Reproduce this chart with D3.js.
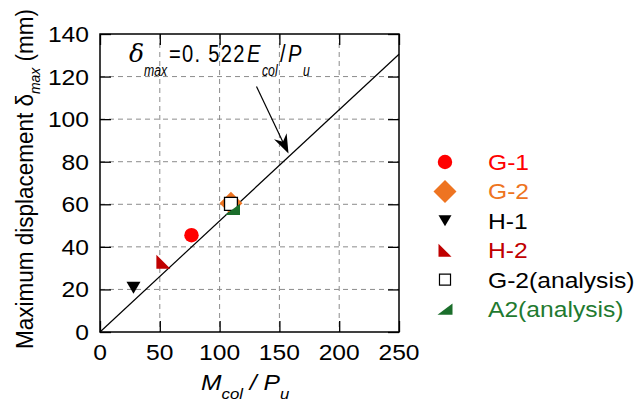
<!DOCTYPE html>
<html><head><meta charset="utf-8">
<script src="https://cdn.jsdelivr.net/npm/d3@7"></script>
<style>
html,body{margin:0;padding:0;background:#fff;}
text{font-family:"Liberation Sans",Arial,sans-serif;}
</style></head>
<body><svg id="chart" width="640" height="405"></svg>
<script>
// ---- data ----
const seriesNames = ["G-1","G-2","H-1","H-2","G-2(analysis)","A2(analysis)"];
const seriesX = [76.5, 109.5, 28, 53, 109.5, 110.8];
const seriesY = [45.5, 60.5, 20.8, 33, 60.2, 57.6];
const seriesColors = ["#ff0000","#ee7421","#000000","#c00000","#000000","#1b6e2b"];
const seriesShapes = ["circle","diamond","triDown","triH2","square","triA2"];
const xTicks = [0,50,100,150,200,250];
const yTicks = [0,20,40,60,80,100,120,140];
const fitSlope = 0.522;
const fitX = [0,250];

const SX = 1.12; // horizontal stretch of the reference typography
const svg = d3.select("#chart");
const L=100, R=399, T=34, B=332;
const x = d3.scaleLinear().domain([0,250]).range([L,R]);
const y = d3.scaleLinear().domain([0,140]).range([B,T]);

// grid
const grid = svg.append("g").attr("stroke","#8c8c8c").attr("stroke-width",1).attr("stroke-dasharray","5,4");
xTicks.slice(1,-1).forEach(v=>grid.append("line").attr("x1",x(v)).attr("x2",x(v)).attr("y1",T).attr("y2",B));
yTicks.slice(1,-1).forEach(v=>grid.append("line").attr("y1",y(v)).attr("y2",y(v)).attr("x1",L).attr("x2",R));

// inward ticks using axes
const tk = 11;
svg.append("g").attr("transform",`translate(0,${B})`).call(d3.axisTop(x).tickValues(xTicks).tickSize(tk).tickFormat(""));
svg.append("g").attr("transform",`translate(0,${T})`).call(d3.axisBottom(x).tickValues(xTicks).tickSize(tk).tickFormat(""));
svg.append("g").attr("transform",`translate(${L},0)`).call(d3.axisRight(y).tickValues(yTicks).tickSize(tk).tickFormat(""));
svg.append("g").attr("transform",`translate(${R},0)`).call(d3.axisLeft(y).tickValues(yTicks).tickSize(tk).tickFormat(""));
svg.selectAll(".domain").remove();
svg.selectAll(".tick line").attr("stroke","#000").attr("stroke-width",1.3);

// frame
svg.append("rect").attr("x",L).attr("y",T).attr("width",R-L).attr("height",B-T)
  .attr("fill","none").attr("stroke","#000").attr("stroke-width",1.5);

// tick labels
svg.append("g").selectAll("text").data(xTicks).join("text")
  .attr("transform",d=>`translate(${x(d)},360) scale(${SX},1)`).attr("text-anchor","middle")
  .attr("font-size",22).text(d=>d);
svg.append("g").selectAll("text").data(yTicks).join("text")
  .attr("transform",d=>`translate(89,${y(d)+8}) scale(${SX},1)`).attr("text-anchor","end")
  .attr("font-size",22).text(d=>d);

// fit line
svg.append("line").attr("x1",x(fitX[0])).attr("y1",y(fitX[0]*fitSlope))
  .attr("x2",x(fitX[1])).attr("y2",y(fitX[1]*fitSlope))
  .attr("stroke","#000").attr("stroke-width",1.2);

// marker symbol paths
function shapePath(shape, s){
  switch(shape){
    case "circle": return d3.symbol(d3.symbolCircle, s*s*0.78)();
    case "diamond": {const h=s*0.82; return `M0,${-h}L${h},0L0,${h}L${-h},0Z`;}
    case "triDown": {const w=s*0.5; return `M${-w},${-w*0.85}L${w},${-w*0.85}L0,${w*0.85}Z`;}
    case "triH2": {const w=s*0.5; return `M${-w},${-w}L${w},${w}L${-w},${w}Z`;}
    case "triA2": {const w=s*0.5; return `M${-w},${w*0.75}L${w},${-w*0.75}L${w},${w*0.75}Z`;}
    case "square": {const w=s*0.46; return `M${-w},${-w}H${w}V${w}H${-w}Z`;}
  }
}
const sizes = [14.5,14,14,14,14,15];
const pts = svg.append("g");
seriesNames.forEach((n,i)=>{
  pts.append("path").attr("d",shapePath(seriesShapes[i],sizes[i]))
    .attr("transform",`translate(${x(seriesX[i])},${y(seriesY[i])})`)
    .attr("fill",seriesShapes[i]==="square"?"#fff":seriesColors[i])
    .attr("stroke",seriesShapes[i]==="square"?"#000":"none")
    .attr("stroke-width",1.3);
});

// legend
const lg = svg.append("g");
const legSizes=[14.5,14,13,13,12,15];
seriesNames.forEach((n,i)=>{
  const yy = 162 + i*29.4;
  lg.append("path").attr("d",shapePath(seriesShapes[i],legSizes[i]))
    .attr("transform",`translate(445,${yy})`)
    .attr("fill",seriesShapes[i]==="square"?"#fff":seriesColors[i])
    .attr("stroke",seriesShapes[i]==="square"?"#000":"none").attr("stroke-width",1.2);
  lg.append("text").attr("transform",`translate(488,${yy+8}) scale(${SX},1)`).attr("font-size",22)
    .attr("fill",seriesColors[i]==="#1b6e2b"?"#1f7a30":seriesColors[i]).text(n);
});

// axis titles
const xl = svg.append("text").attr("transform",`translate(201,390) scale(${SX},1)`).attr("font-size",22).attr("font-style","italic");
xl.append("tspan").text("M");
xl.append("tspan").attr("font-size",15).attr("dy",9).text("col");
xl.append("tspan").attr("dy",-9).text(" / P");
xl.append("tspan").attr("font-size",15).attr("dy",9).text("u");

const yl = svg.append("text").attr("transform","translate(33,179) rotate(-90) scale(1,1.1)")
  .attr("text-anchor","middle").attr("font-size",22.5);
yl.append("tspan").text("Maximum displacement δ");
yl.append("tspan").attr("font-size",14).attr("font-style","italic").attr("dy",6).text("max");
yl.append("tspan").attr("dy",-6).text(" (mm)");

// annotation: condensed look by horizontal scaling of Liberation Sans
const an = svg.append("g");
const parts = [
  {t:"δ",   x:129, y:62, fs:25, sc:1,    it:true, serif:true},
  {t:"max", x:144, y:76, fs:17, sc:0.72, it:true},
  {t:"=0. 522", x:169, y:62, fs:24, sc:0.84, it:false, ls:1.5},
  {t:"E",   x:247, y:62, fs:24, sc:0.84, it:true},
  {t:"col", x:262, y:76, fs:17, sc:0.72, it:true},
  {t:"/",   x:280, y:62, fs:24, sc:0.84, it:false},
  {t:"P",   x:288, y:62, fs:24, sc:0.84, it:true},
  {t:"u",   x:303, y:76, fs:17, sc:0.72, it:true}
];
parts.forEach(p=>{
  const t = an.append("text").attr("transform",`translate(${p.x},${p.y}) scale(${p.sc},1)`)
    .attr("font-size",p.fs).text(p.t);
  if(p.it) t.attr("font-style","italic");
  if(p.serif) t.style("font-family","'DejaVu Serif',serif");
  if(p.ls) t.attr("letter-spacing",p.ls);
});

// arrow
const ax0=256.5, ay0=86.5, ax1=288.5, ay1=153.5;
svg.append("line").attr("x1",ax0).attr("y1",ay0).attr("x2",ax1-3).attr("y2",ay1-6)
  .attr("stroke","#000").attr("stroke-width",1.2);
(function(){
  const ang=Math.atan2(ay1-ay0,ax1-ax0);
  const len=19, wid=7, notch=13;
  const ux=Math.cos(ang), uy=Math.sin(ang), px=-uy, py=ux;
  const bx=ax1-ux*len, by=ay1-uy*len;
  const nx=ax1-ux*notch, ny=ay1-uy*notch;
  svg.append("path").attr("d",`M${ax1},${ay1}L${bx+px*wid},${by+py*wid}L${nx},${ny}L${bx-px*wid},${by-py*wid}Z`)
    .attr("fill","#000");
})();
</script></body></html>
